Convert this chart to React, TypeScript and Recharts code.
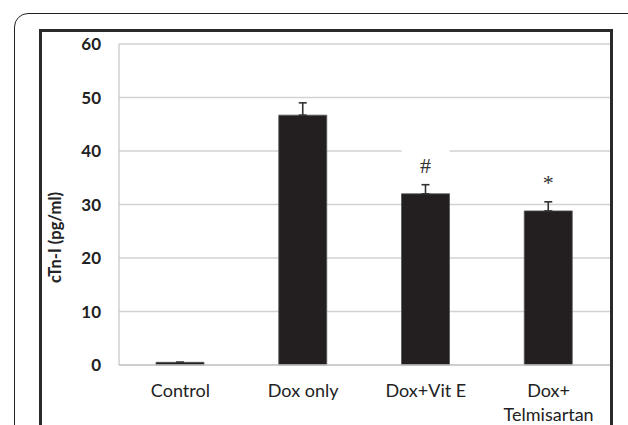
import React from "react";
import { BarChart, Bar, XAxis, YAxis, CartesianGrid, ErrorBar, LabelList } from "recharts";

const categories = ["Control", "Dox only", "Dox+Vit E", "Dox+\nTelmisartan"];
const means = [0.5, 46.7, 32, 28.8];
const errors = [0, 2.3, 1.7, 1.7];
const marks = ["", "", "#", "*"];
const yTicks = [0, 10, 20, 30, 40, 50, 60];

const data = categories.map((name, i) => ({
  name,
  value: means[i],
  err: [0, errors[i]],
}));

const FONT = "Lato, 'Open Sans', sans-serif";

const XTick = ({ x, y, payload }: any) => {
  const lines = String(payload.value).split("\n");
  return (
    <text x={x} y={y} textAnchor="middle" fontFamily={FONT} fontSize={18} fill="#222">
      {lines.map((l, i) => (
        <tspan key={i} x={x} dy={i === 0 ? 32 : 24}>
          {l}
        </tspan>
      ))}
    </text>
  );
};

const YTick = ({ x, y, payload }: any) => (
  <text x={x - 18} y={y} dy={6} textAnchor="end" fontFamily={FONT} fontSize={17} fontWeight="bold" fill="#222">
    {payload.value}
  </text>
);

const YLabel = ({ viewBox }: any) => {
  const cx = viewBox.x + 35;
  const cy = viewBox.y + viewBox.height / 2 + 33;
  return (
    <text
      x={cx}
      y={cy}
      transform={`rotate(-90, ${cx}, ${cy})`}
      textAnchor="middle"
      dominantBaseline="central"
      fontFamily={FONT}
      fontSize={16.5}
      fontWeight="bold"
      fill="#222"
    >
      cTn-I (pg/ml)
    </text>
  );
};

const MarkLabel = (props: any) => {
  const { x, y, width, height, index } = props;
  const mark = marks[index];
  if (!mark) return null;
  const perUnit = height / means[index];
  const errTop = y - errors[index] * perUnit;
  return (
    <g>
      <rect x={x} y={errTop - 36} width={width} height={32} fill="#fff" />
      <text
        x={x + width / 2}
        y={errTop - 12}
        textAnchor="middle"
        fontFamily="'Liberation Serif', 'DejaVu Serif', serif"
        fontSize={22}
        fill="#333"
      >
        {mark}
      </text>
    </g>
  );
};

export default function App() {
  return (
    <div
      style={{
        position: "absolute",
        left: 0,
        top: 0,
        width: 628,
        height: 425,
        overflow: "hidden",
        background: "#fff",
      }}
    >
      <div
        style={{
          position: "absolute",
          left: 14,
          top: 13,
          width: 700,
          height: 500,
          border: "1.5px solid #222",
          borderRadius: 14,
          boxSizing: "border-box",
        }}
      />
      <div
        style={{
          position: "absolute",
          left: 39,
          top: 29,
          width: 574,
          height: 500,
          border: "3px solid #2a2a2a",
          boxSizing: "border-box",
        }}
      />
      <div style={{ position: "absolute", left: 0, top: 0 }}>
        <BarChart width={628} height={425} data={data} margin={{ top: 44, right: 18, bottom: 0, left: 20 }}>
          <CartesianGrid vertical={false} stroke="#d2d2d2" strokeWidth={1.3} />
          <XAxis
            dataKey="name"
            height={60}
            interval={0}
            tickLine={false}
            tickSize={0}
            tickMargin={0}
            axisLine={{ stroke: "#c8c8c8", strokeWidth: 1.3 }}
            tick={<XTick />}
          />
          <YAxis
            width={99}
            domain={[0, 60]}
            ticks={yTicks}
            interval={0}
            tickLine={false}
            tickSize={0}
            tickMargin={0}
            axisLine={{ stroke: "#c8c8c8", strokeWidth: 1.3 }}
            tick={<YTick />}
            label={<YLabel />}
          />
          <Bar dataKey="value" fill="#231f20" stroke="#555" strokeWidth={0.8} barSize={48} isAnimationActive={false}>
            <ErrorBar dataKey="err" width={4} stroke="#333" strokeWidth={1.6} />
            <LabelList dataKey="value" content={<MarkLabel />} />
          </Bar>
        </BarChart>
      </div>
    </div>
  );
}
